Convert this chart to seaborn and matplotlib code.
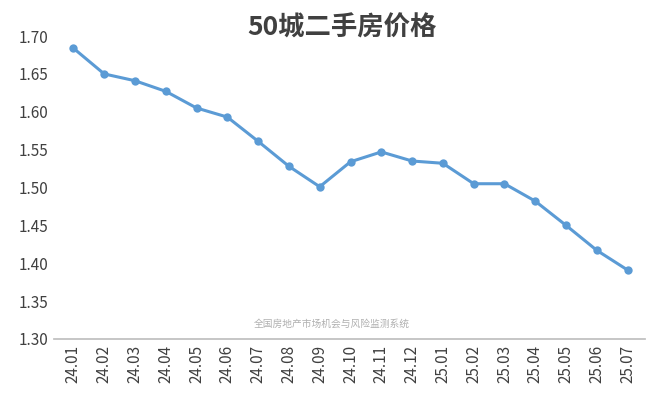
import numpy as np
import pandas as pd
import matplotlib.pyplot as plt
import seaborn as sns

months = ['24.01', '24.02', '24.03', '24.04', '24.05', '24.06', '24.07', '24.08', '24.09', '24.10',
          '24.11', '24.12', '25.01', '25.02', '25.03', '25.04', '25.05', '25.06', '25.07']
prices = [1.684, 1.650, 1.641, 1.627, 1.605, 1.593, 1.561, 1.528, 1.501, 1.534,
          1.547, 1.535, 1.532, 1.505, 1.505, 1.482, 1.450, 1.417, 1.391]
yticks = [1.30, 1.35, 1.40, 1.45, 1.50, 1.55, 1.60, 1.65, 1.70]

sns.set_theme(style='white')
plt.rcParams['font.family'] = ['Noto Sans CJK SC', 'DejaVu Sans']

df = pd.DataFrame({'month': months, 'price': prices, 'x': np.arange(len(months))})

fig = plt.figure(figsize=(6.54, 4.05), dpi=100)
ax = fig.add_axes([0.083, 0.163, 0.904, 0.748])
sns.lineplot(data=df, x='x', y='price', ax=ax, color='#5b9bd5', linewidth=2.2,
             marker='o', markersize=6, markeredgewidth=0)

ax.set_xlim(-0.62, 18.58)
ax.set_ylim(1.30, 1.70)
ax.set_yticks(yticks)
ax.set_yticklabels([f'{v:.2f}' for v in yticks], fontsize=11, color='#404040')
ax.set_xticks(df['x'])
ax.set_xticklabels(months, rotation=90, fontsize=11, color='#404040')
ax.set_xlabel('')
ax.set_ylabel('')
for s in ['top', 'right', 'left']:
    ax.spines[s].set_visible(False)
ax.spines['bottom'].set_color('#bfbfbf')
ax.tick_params(axis='both', length=0, pad=4)

fig.text(0.523, 0.931, '50城二手房价格', ha='center', va='center', fontsize=19,
         fontweight='bold', color='#404040')
ax.text(0.47, 0.04, '全国房地产市场机会与风险监测系统', transform=ax.transAxes,
        ha='center', fontsize=7, color='#b0b0b0')

fig.savefig('out.png', dpi=100)
